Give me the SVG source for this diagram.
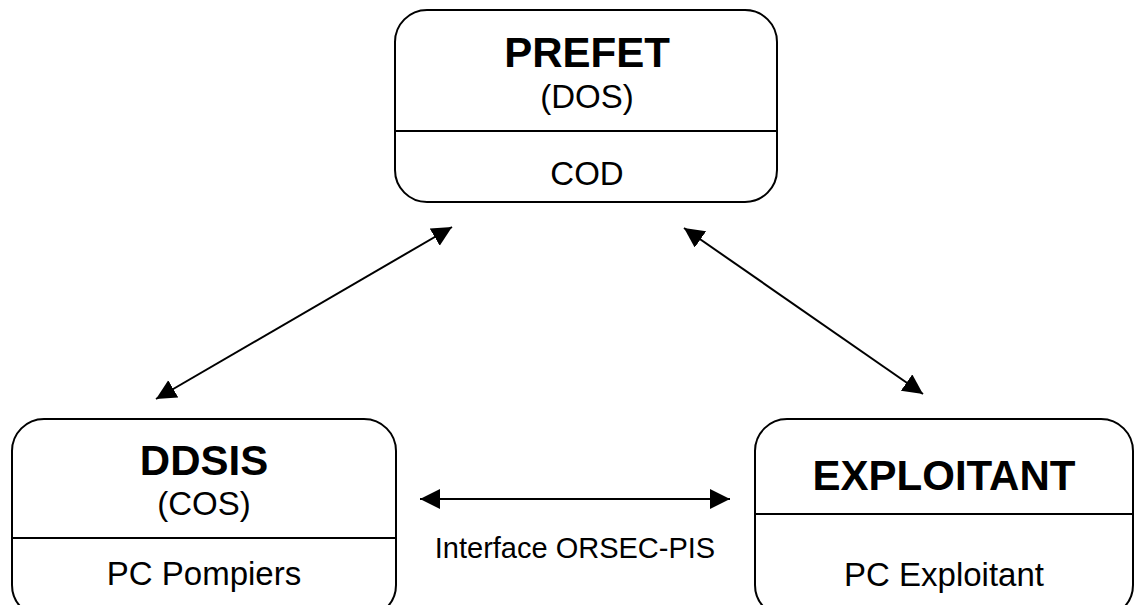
<svg xmlns="http://www.w3.org/2000/svg" width="1136" height="605" viewBox="0 0 1136 605">
<style>
.box{fill:#fff;stroke:#000;stroke-width:2}
.div{stroke:#000;stroke-width:2}
.t{font-family:"Liberation Sans",Arial,sans-serif;fill:#000;text-anchor:middle}
.title{font-size:42px;font-weight:bold}
.sub{font-size:33px}
.lbl{font-size:29px}
.conn{stroke:#000;stroke-width:2;fill:none;marker-start:url(#ah);marker-end:url(#ah)}
</style>
<defs>
<marker id="ah" markerUnits="userSpaceOnUse" markerWidth="22" markerHeight="22" refX="20" refY="10" orient="auto-start-reverse" viewBox="0 0 22 22">
<path d="M0,0 L20,10 L0,20 Z" fill="#000"/>
</marker>
</defs>
<rect width="1136" height="605" fill="#fff"/>
<g id="prefet">
<rect class="box" x="395" y="10" width="382" height="192" rx="32" ry="32"/>
<line class="div" x1="395" y1="131" x2="777" y2="131"/>
<text class="t title" x="587" y="67">PREFET</text>
<text class="t sub" x="587" y="108">(DOS)</text>
<text class="t sub" x="587" y="185">COD</text>
</g>
<g id="ddsis">
<rect class="box" x="12" y="419" width="384" height="198" rx="32" ry="32"/>
<line class="div" x1="12" y1="538" x2="396" y2="538"/>
<text class="t title" x="204" y="475">DDSIS</text>
<text class="t sub" x="204" y="515">(COS)</text>
<text class="t sub" x="204" y="585">PC Pompiers</text>
</g>
<g id="exploitant">
<rect class="box" x="755" y="419" width="378" height="198" rx="32" ry="32"/>
<line class="div" x1="755" y1="514" x2="1133" y2="514"/>
<text class="t title" x="944" y="490">EXPLOITANT</text>
<text class="t sub" x="944" y="586">PC Exploitant</text>
</g>
<g id="connectors">
<line class="conn" x1="156" y1="399" x2="452" y2="227"/>
<line class="conn" x1="684" y1="228" x2="923" y2="394"/>
<line class="conn" x1="420" y1="499" x2="730" y2="499"/>
<text class="t lbl" x="575" y="558">Interface ORSEC-PIS</text>
</g>
</svg>
